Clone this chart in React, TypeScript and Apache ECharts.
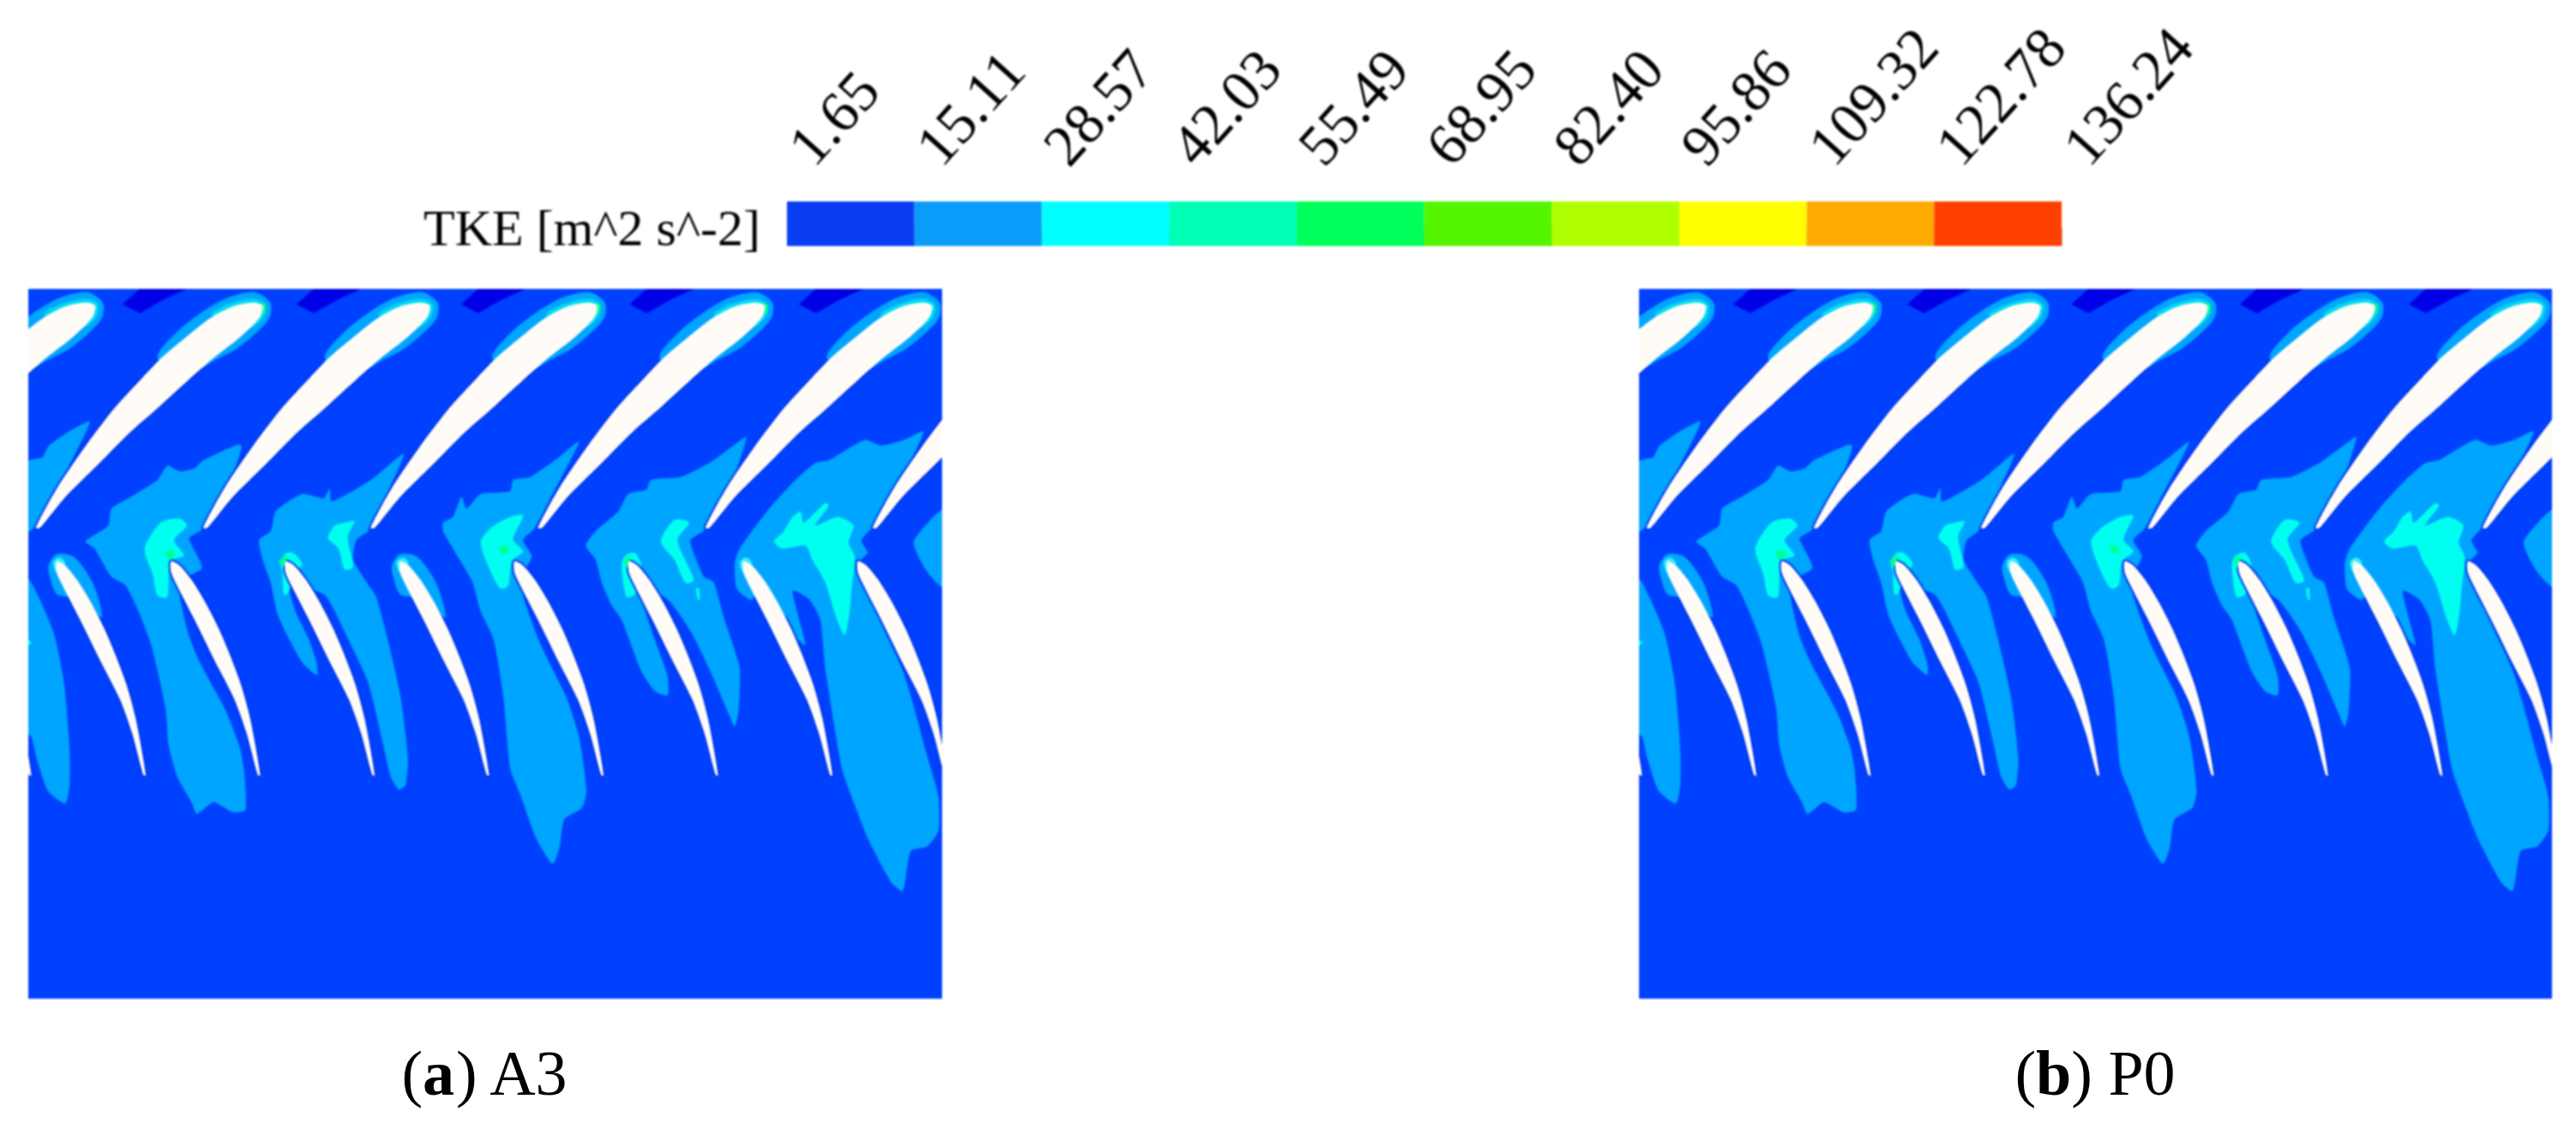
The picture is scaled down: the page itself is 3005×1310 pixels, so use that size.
import React, { useEffect, useRef } from "react";
import * as echarts from "echarts";

type Pt = [number, number];

const legendTitle = "TKE [m^2 s^-2]";
const tickLabels = ["1.65", "15.11", "28.57", "42.03", "55.49", "68.95", "82.40", "95.86", "109.32", "122.78", "136.24"];
const levelColors = ["#0A3EF2", "#0A9CF8", "#00FFFF", "#00FFB4", "#00FF5A", "#55F500", "#AFFF00", "#FFFF00", "#FFAA00", "#FF4000"];
const captions = [
  { bold: "a", rest: "A3" },
  { bold: "b", rest: "P0" },
];

// Outlines in the coordinate system of the contour domain.
const rotorBlade: Pt[] = [[57, 539], [91, 456], [138, 365], [184, 286], [231, 219], [262, 177], [298, 137], [342, 92], [380, 67], [412, 60], [426, 67], [421, 92], [389, 134], [347, 177], [305, 225], [259, 280], [212, 334], [161, 401], [105, 474], [64, 539]];
const rotorHaloOuter: Pt[] = [[255, 178], [283, 127], [330, 78], [368, 50], [412, 38], [438, 60], [437, 92], [415, 125], [384, 158], [352, 180], [301, 213]];
const rotorHaloInner: Pt[] = [[342, 86], [370, 64], [412, 52], [430, 64], [428, 89], [407, 113], [380, 92]];
const rotorOffsets = [-272, 0, 272, 544, 816, 1088, 1360];

const statorBlade: Pt[] = [[91, 610], [105, 619], [124, 649], [147, 698], [168, 752], [186, 807], [205, 874], [220, 947], [236, 1065], [232, 1065], [214, 977], [194, 904], [161, 819], [129, 734], [105, 673], [91, 634]];
const statorHalo: Pt[] = [[78, 619], [91, 595], [119, 601], [147, 649], [161, 698], [164, 730], [140, 700], [110, 686], [91, 680], [80, 643]];
const statorHaloInner: Pt[] = [[85, 612], [95, 602], [104, 610], [104, 630], [91, 634]];
const statorOffsets = [-186, 0, 186, 372, 558, 744, 930, 1116, 1302];
const haloStatorOffsets = [0, 558, 1116];

const darkPatch: Pt[] = [[198, 64], [226, 31], [303, 31], [263, 55], [226, 83]];
const darkPatchOffsets = [0, 283, 550, 824, 1099];

const wakes: Pt[][] = [
  [[45, 398], [68, 389], [78, 365], [115, 331], [145, 313], [116, 395], [90, 461], [58, 534], [45, 546]],
  [[45, 649], [64, 692], [87, 765], [103, 868], [112, 1007], [112, 1086], [105, 1125], [77, 1098], [59, 1031], [50, 983], [45, 977]],
  [[391, 363], [330, 395], [314, 413], [292, 419], [271, 407], [255, 437], [212, 473], [180, 498], [175, 534], [138, 568], [152, 582], [180, 643], [203, 661], [226, 722], [245, 789], [268, 922], [273, 1001], [287, 1068], [310, 1122], [319, 1147], [346, 1122], [378, 1144], [398, 1138], [396, 1060], [389, 1007], [366, 928], [324, 825], [305, 764], [290, 655], [327, 625], [311, 577], [306, 561], [330, 540], [362, 473]],
  [[655, 382], [602, 437], [538, 483], [535, 455], [525, 476], [490, 467], [447, 504], [439, 546], [420, 565], [426, 607], [439, 656], [450, 722], [469, 776], [490, 825], [514, 852], [514, 828], [501, 776], [479, 716], [469, 655], [525, 680], [538, 704], [565, 776], [597, 867], [621, 995], [634, 1068], [647, 1095], [658, 1086], [662, 1031], [650, 898], [629, 776], [610, 685], [595, 655], [573, 607], [578, 565], [597, 546], [623, 480]],
  [[940, 355], [908, 388], [860, 431], [833, 437], [828, 461], [780, 467], [757, 498], [749, 473], [735, 516], [719, 528], [719, 546], [746, 607], [767, 655], [780, 716], [801, 776], [817, 898], [828, 1050], [844, 1104], [871, 1201], [897, 1253], [908, 1220], [916, 1159], [945, 1134], [952, 1098], [940, 983], [919, 898], [876, 782], [844, 655], [863, 600], [849, 565], [868, 540], [892, 480], [919, 413]],
  [[1212, 346], [1191, 364], [1153, 400], [1105, 431], [1057, 437], [1049, 458], [1020, 467], [1004, 504], [967, 546], [951, 577], [967, 607], [977, 656], [993, 704], [1009, 734], [1041, 843], [1063, 886], [1084, 895], [1084, 855], [1063, 776], [1041, 691], [1031, 655], [1084, 691], [1121, 758], [1153, 843], [1185, 940], [1193, 962], [1199, 931], [1201, 837], [1175, 728], [1159, 655], [1143, 643], [1127, 595], [1121, 565], [1148, 540], [1185, 455]],
  [[1500, 334], [1468, 352], [1431, 364], [1404, 352], [1346, 395], [1324, 401], [1292, 437], [1249, 498], [1201, 583], [1193, 613], [1196, 668], [1217, 692], [1225, 690], [1290, 770], [1308, 788], [1287, 673], [1314, 691], [1332, 734], [1340, 837], [1367, 1050], [1388, 1128], [1410, 1201], [1447, 1292], [1466, 1311], [1479, 1226], [1506, 1216], [1524, 1183], [1524, 1110], [1506, 1025], [1468, 849], [1426, 728], [1404, 655], [1399, 607], [1409, 592], [1399, 565], [1428, 522], [1468, 425]],
  [[1535, 498], [1484, 568], [1505, 631], [1535, 668]],
];

const cyanCores: Pt[][] = [
  [[290, 519], [303, 534], [282, 565], [298, 598], [276, 610], [271, 686], [255, 683], [247, 637], [234, 583], [260, 528]],
  [[559, 528], [575, 525], [564, 558], [573, 622], [559, 628], [549, 583], [532, 561], [543, 534]],
  [[455, 615], [462, 594], [475, 592], [490, 615], [478, 640], [466, 680], [460, 680], [458, 635]],
  [[849, 513], [828, 516], [796, 540], [780, 570], [796, 631], [812, 668], [825, 662], [831, 610], [849, 589], [833, 564]],
  [[1095, 522], [1119, 528], [1100, 565], [1127, 650], [1113, 656], [1095, 607], [1073, 568]],
  [[1130, 668], [1135, 668], [1136, 692], [1133, 692]],
  [[1009, 619], [1015, 598], [1031, 592], [1041, 619], [1031, 680], [1017, 686]],
  [[1287, 516], [1300, 504], [1305, 528], [1340, 486], [1346, 492], [1324, 534], [1361, 516], [1386, 534], [1378, 570], [1388, 601], [1383, 668], [1380, 716], [1372, 767], [1359, 734], [1340, 655], [1319, 607], [1308, 577], [1271, 583], [1257, 568], [1273, 546]],
  [[45, 778], [50, 783], [45, 788]],
];
const greenSpots: Pt[][] = [
  [[266, 590], [280, 585], [284, 600], [272, 606]],
  [[452, 612], [460, 597], [466, 600], [460, 622]],
  [[810, 578], [824, 576], [826, 592], [814, 594]],
  [[1012, 612], [1019, 598], [1024, 602], [1018, 624]],
  [[424, 60], [431, 64], [430, 84], [425, 84]],
  [[968, 60], [975, 64], [974, 84], [969, 84]],
  [[1240, 60], [1247, 64], [1246, 84], [1241, 84]],
];

const shift = (shape: Pt[], dx: number): Pt[] => shape.map(([x, y]) => [x + dx, y] as Pt);
const copies = (shape: Pt[], offsets: number[]) => offsets.map((d) => shift(shape, d));

const PANEL_BG = "#0041FF";
const WHITE = "#FFFCF8";
const SHADOW = "#0036EC";
const WAKE = "#00A5FF";
const layers: { shapes: Pt[][]; fill: string; smooth?: number; stroke?: string; width?: number }[] = [
  { shapes: copies(darkPatch, darkPatchOffsets), fill: "#0000E6" },
  { shapes: wakes, fill: WAKE, smooth: 0.2 },
  { shapes: cyanCores, fill: "#00FFF0", smooth: 0.25 },
  { shapes: copies(statorBlade, statorOffsets), fill: SHADOW, stroke: SHADOW, width: 4, smooth: 0.25 },
  { shapes: copies(rotorBlade, rotorOffsets), fill: SHADOW, stroke: SHADOW, width: 4, smooth: 0.25 },
  { shapes: copies(statorHalo, haloStatorOffsets), fill: WAKE, smooth: 0.3 },
  { shapes: copies(statorHaloInner, haloStatorOffsets), fill: "#30F0F8", smooth: 0.3 },
  { shapes: copies(rotorHaloOuter, rotorOffsets), fill: WAKE, smooth: 0.3 },
  { shapes: copies(rotorHaloInner, rotorOffsets), fill: "#00DCF0", smooth: 0.3 },
  { shapes: greenSpots, fill: "#00FF90" },
  { shapes: copies(statorBlade, statorOffsets), fill: WHITE, smooth: 0.25 },
  { shapes: copies(rotorBlade, rotorOffsets), fill: WHITE, smooth: 0.25 },
];

const panels = [
  { left: 33, top: 337, width: 1066, height: 828 },
  { left: 1912, top: 337, width: 1065, height: 828 },
];

function polygonSeries(panelIndex: number, layer: (typeof layers)[number], z: number) {
  return {
    type: "custom",
    coordinateSystem: "cartesian2d",
    xAxisIndex: panelIndex,
    yAxisIndex: panelIndex,
    clip: true,
    silent: true,
    z,
    data: layer.shapes.map((s) => s[0]),
    renderItem: (params: any, api: any) => ({
      type: "polygon",
      shape: {
        points: layer.shapes[params.dataIndex].map((p) => api.coord(p)),
        smooth: layer.smooth ?? 0,
      },
      style: {
        fill: layer.fill,
        stroke: layer.stroke ?? "none",
        lineWidth: layer.width ?? 0,
      },
    }),
  };
}

export default function App() {
  const plotRef = useRef<HTMLDivElement>(null);
  const captionRef = useRef<HTMLDivElement>(null);
  useEffect(() => {
    document.body.style.margin = "0";
    const chart = echarts.init(plotRef.current!, undefined, { renderer: "svg" });
    const captionChart = echarts.init(captionRef.current!, undefined, { renderer: "svg" });
    const serif = "Liberation Serif";
    const barIndex = panels.length;
    chart.setOption({
      animation: false,
      backgroundColor: "#ffffff",
      grid: [
        ...panels.map((p) => ({ ...p, show: true, backgroundColor: PANEL_BG, borderWidth: 0 })),
        { left: 918, top: 235, width: 1487, height: 52 },
      ],
      xAxis: [
        ...panels.map((_, i) => ({ type: "value", gridIndex: i, min: 45, max: 1530, show: false })),
        {
          type: "value",
          gridIndex: barIndex,
          min: 0,
          max: levelColors.length,
          interval: 1,
          position: "top",
          axisLine: { show: false },
          splitLine: { show: false },
          axisTick: { show: true, length: 22, lineStyle: { color: "#b8b8b8", width: 1 } },
          axisLabel: {
            show: true,
            rotate: 48,
            margin: 37,
            padding: [0, 0, 0, 22],
            hideOverlap: false,
            showMinLabel: true,
            showMaxLabel: true,
            fontFamily: serif,
            fontSize: 68,
            color: "#000",
            formatter: (v: number) => tickLabels[v],
          },
        },
      ],
      yAxis: [
        ...panels.map((_, i) => ({ type: "value", gridIndex: i, min: 31, max: 1540, inverse: true, show: false })),
        { type: "value", gridIndex: barIndex, min: 0, max: 1, show: false },
      ],
      series: [
        ...panels.flatMap((_, i) => layers.map((l, j) => polygonSeries(i, l, 2 + j))),
        {
          type: "custom",
          coordinateSystem: "cartesian2d",
          xAxisIndex: barIndex,
          yAxisIndex: barIndex,
          silent: true,
          data: levelColors.map((_, i) => [i, 0]),
          renderItem: (params: any, api: any) => {
            const i = params.dataIndex;
            const a = api.coord([i, 1]);
            const b = api.coord([i + 1, 0]);
            return {
              type: "rect",
              shape: { x: a[0], y: a[1], width: b[0] - a[0], height: b[1] - a[1] },
              style: { fill: levelColors[i] },
            };
          },
        },
      ],
      graphic: [
        {
          type: "text",
          x: 887,
          y: 266,
          style: { text: legendTitle, fontFamily: serif, fontSize: 60, fill: "#000", textAlign: "right", textVerticalAlign: "middle" },
        },
      ],
    });
    captionChart.setOption({
      animation: false,
      graphic: captions.map((c, i) => ({
        type: "text",
        x: i === 0 ? 566 : 2444,
        y: 1252,
        style: {
          text: `({b|${c.bold}}) ${c.rest}`,
          fontFamily: serif,
          fontSize: 74,
          fill: "#000",
          textAlign: "center",
          textVerticalAlign: "middle",
          rich: { b: { fontFamily: serif, fontSize: 74, fontWeight: "bold", fill: "#000" } },
        },
      })),
    });
    return () => {
      chart.dispose();
      captionChart.dispose();
    };
  }, []);
  const box: React.CSSProperties = { position: "absolute", left: 0, top: 0, width: 3005, height: 1310 };
  return (
    <>
      <div ref={plotRef} style={{ ...box, filter: "blur(1.2px)" }} />
      <div ref={captionRef} style={{ ...box, pointerEvents: "none" }} />
    </>
  );
}
